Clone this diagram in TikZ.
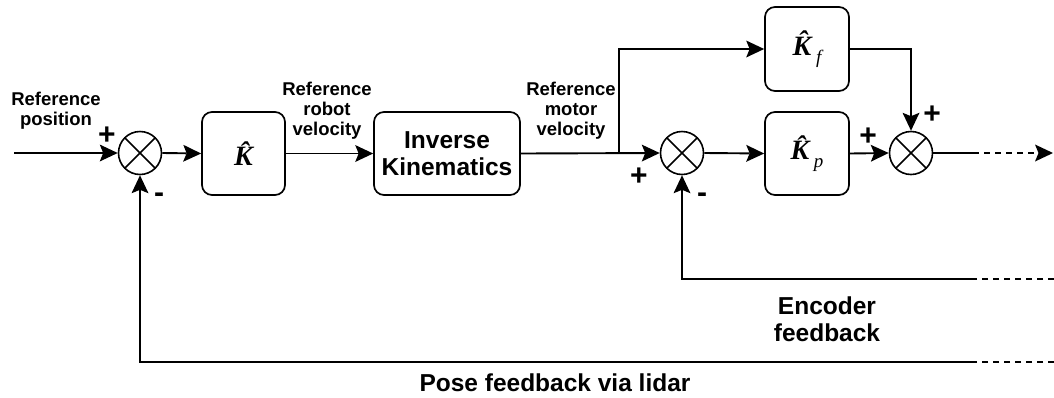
\documentclass[tikz,border=0pt]{standalone}
\usepackage{fontspec}
\setmainfont{Liberation Sans}
\newfontfamily\gainfont{Liberation Serif}
\usetikzlibrary{arrows.meta}
\newcommand\gainK{{\gainfont\bfseries\itshape\^{K}}}
\newcommand\gainsub[1]{\,\raisebox{-8pt}{\gainfont\itshape\fontsize{19}{19}\selectfont #1}}
\begin{document}
\begin{tikzpicture}[x=1pt,y=1pt,
  wire/.style={line width=1.9pt},
  headed/.style={arrows={-Stealth[length=18pt,width=17pt,inset=3.5pt,line width=0pt]}},
  arr/.style={wire,headed},
  dashwire/.style={wire,dash pattern=on 6pt off 5pt},
  blk/.style={draw,line width=1.7pt,rounded corners=10pt,minimum height=83pt,inner sep=0pt,align=center},
  sumnode/.style={draw,circle,line width=1.6pt,minimum size=43pt,inner sep=0pt,
    path picture={\draw[line width=1.6pt]
      (path picture bounding box.south west) -- (path picture bounding box.north east)
      (path picture bounding box.north west) -- (path picture bounding box.south east);}},
  lbl/.style={font=\bfseries\fontsize{18.5}{20}\selectfont,align=center,inner sep=0pt},
  biglbl/.style={font=\bfseries\fontsize{24.5}{27.5}\selectfont,align=center,inner sep=0pt},
  sign/.style={font=\bfseries\fontsize{30}{30}\selectfont,inner sep=0pt},
  gain/.style={font=\fontsize{28}{30}\selectfont}
]
\useasboundingbox (0,0) rectangle (1054,-397);

% summing junctions
\node[sumnode] (s1) at (140,-153) {};
\node[sumnode] (s2) at (682,-153) {};
\node[sumnode] (s3) at (911,-153) {};

% blocks
\node[blk,minimum width=83pt,gain] (K) at (243.5,-153.5) {\gainK};
\node[blk,minimum width=146pt,biglbl] (IK) at (447,-153.5) {Inverse\\Kinematics};
\node[blk,minimum width=84pt,minimum height=84pt,gain] (Kf) at (807,-49) {\gainK\gainsub{f}};
\node[blk,minimum width=84pt,gain] (Kp) at (807,-153.5) {\gainK\gainsub{p}};

% free ends of the signal lines
\coordinate (in)  at (14,-153);
\coordinate (br)  at (619,-153);
\coordinate (o1)  at (973,-153);
\coordinate (o2)  at (1053,-153);
\coordinate (eM)  at (973,-279);
\coordinate (eR)  at (1054,-279);
\coordinate (pM)  at (973,-362);
\coordinate (pR)  at (1054,-362);

% forward path
\draw[arr] (in) -- (s1.west);
\draw[arr] (s1.east) -- (K.west);
\draw[arr] (K.east) -- (IK.west);
\draw[arr] (IK.east) -- (s2.west);
\draw[arr] (br) |- (Kf.west);
\draw[arr] (Kf.east) -| (s3.north);
\draw[arr] (s2.east) -- (Kp.west);
\draw[arr] (Kp.east) -- (s3.west);
\draw[wire] (s3.east) -- (o1);
\draw[dashwire,headed] (o1) -- (o2);

% feedback paths
\draw[dashwire] (eR) -- (eM);
\draw[arr] (eM) -| (s2.south);
\draw[dashwire] (pR) -- (pM);
\draw[arr] (pM) -| (s1.south);

% signal labels
\node[lbl] (tpos) at (56,-111) {Reference\\position};
\node[lbl] (trv) at (327,-111) {Reference\\robot\\velocity};
\node[lbl] (tmv) at (571,-111) {Reference\\motor\\velocity};
\node[biglbl] (tenc) at (827,-319) {Encoder\\feedback};
\node[biglbl] (tpose) at (555,-383) {Pose feedback via lidar};

% signs
\node[sign] (p1) at (107,-136) {+};
\node[sign] (m1) at (159,-198) {-};
\node[sign] (p2) at (639,-177) {+};
\node[sign] (m2) at (702,-198) {-};
\node[sign] (p3) at (868,-137) {+};
\node[sign] (p4) at (932,-115) {+};
\end{tikzpicture}
\end{document}
